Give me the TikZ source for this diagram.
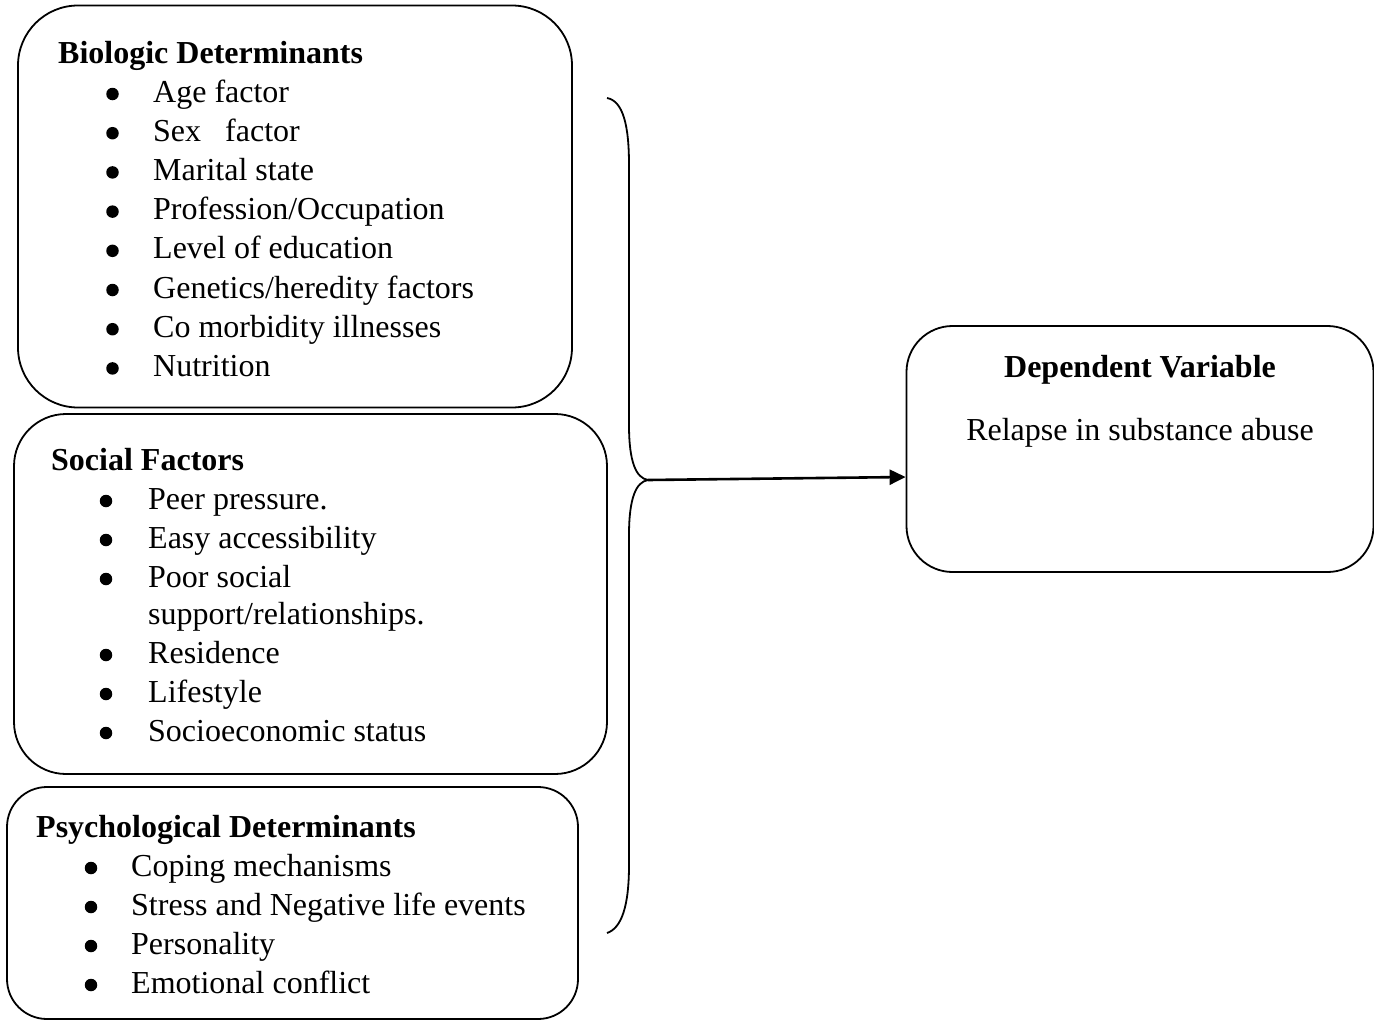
\documentclass[tikz,border=0pt]{standalone}
\usepackage{fontspec}
\setmainfont{Liberation Serif}
\usetikzlibrary{arrows.meta}
\begin{document}
\begin{tikzpicture}[x=1pt,y=-1pt,
  box/.style={draw,line width=1.8pt,rectangle,inner sep=0pt},
  txt/.style={anchor=base west,inner sep=0pt,font=\fontsize{32}{39}\selectfont},
  ttl/.style={anchor=base west,inner sep=0pt,font=\fontsize{32}{39}\selectfont\bfseries},
  bul/.style={circle,fill,draw=none,inner sep=0pt,minimum size=12.5pt},
  conn/.style={line width=1.8pt},
  arr/.style={line width=2.6pt,-{Triangle[length=16pt,width=15pt]}}]
\useasboundingbox (0,0) rectangle (1374,1020);
% boxes
\node[box,rounded corners=60pt,minimum width=554pt,minimum height=402pt] (bio) at (295,206.5) {};
\node[box,rounded corners=52pt,minimum width=593pt,minimum height=360pt] (soc) at (310.5,594) {};
\node[box,rounded corners=40pt,minimum width=571pt,minimum height=232pt] (psy) at (292.5,903) {};
\node[box,rounded corners=46pt,minimum width=467pt,minimum height=246pt] (dep) at (1140,449) {};
% biologic
\node[ttl] (bt) at (58,63) {Biologic Determinants};
\foreach \t [count=\i] in {Age factor,Sex~~~factor,Marital state,Profession/Occupation,Level of education,Genetics/heredity factors,Co morbidity illnesses,Nutrition}{
  \node[bul] (bb\i) at (112.5,{102+39.2*(\i-1)-8}) {};
  \node[txt] (bi\i) at (153,{102+39.2*(\i-1)}) {\t};
}
% social
\node[ttl] (st) at (51,470) {Social Factors};
\foreach \t/\y [count=\i] in {Peer pressure./509,Easy accessibility/548,Poor social/587,Residence/663,Lifestyle/702,Socioeconomic status/741}{
  \node[bul] (sb\i) at (106,\y-8) {};
  \node[txt] (si\i) at (148,\y) {\t};
}
\node[txt] (si3b) at (148,624) {support/relationships.};
% psychological
\node[ttl] (pt) at (36,837) {Psychological Determinants};
\foreach \t [count=\i] in {Coping mechanisms,Stress and Negative life events,Personality,Emotional conflict}{
  \node[bul] (pb\i) at (91,{876+39*(\i-1)-8}) {};
  \node[txt] (pi\i) at (131,{876+39*(\i-1)}) {\t};
}
% dependent
\node[anchor=base,inner sep=0pt,font=\fontsize{32}{39}\selectfont\bfseries] (dt) at (1140,377) {Dependent Variable};
\node[anchor=base,inner sep=0pt,font=\fontsize{32}{39}\selectfont] (dr) at (1140,440) {Relapse in substance abuse};
% brace
\coordinate (btop) at (607,98);
\coordinate (tip) at (648,480);
\coordinate (bbot) at (607,933);
\draw[conn] (btop) .. controls (623,101) and (629,125) .. (629,165) -- (629,425)
  .. controls (629,462) and (636,478) .. (tip)
  .. controls (636,482) and (629,498) .. (629,535) -- (629,865)
  .. controls (629,905) and (622,928) .. (bbot);
\draw[arr] (tip) -- ([yshift=-28pt]dep.west);
\end{tikzpicture}
\end{document}
